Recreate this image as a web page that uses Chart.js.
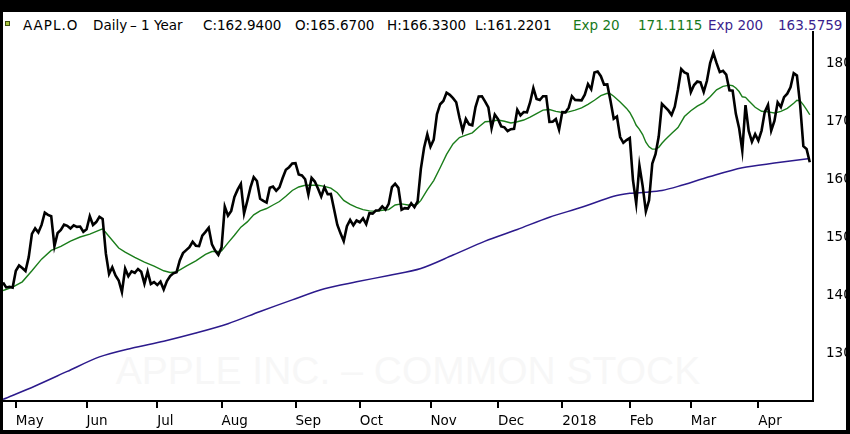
<!DOCTYPE html>
<html>
<head>
<meta charset="utf-8">
<script src="https://cdn.jsdelivr.net/npm/chart.js@4.4.1/dist/chart.umd.min.js"></script>
<style>
html,body{margin:0;padding:0;background:#000;width:850px;height:434px;overflow:hidden;}
#panel{position:absolute;left:3px;top:12px;width:843px;height:418px;background:#fff;overflow:hidden;}
.h{position:absolute;top:5px;font-family:"DejaVu Sans";font-size:13.5px;line-height:16px;white-space:pre;color:#000;}
.g{color:#17791a;}
.p{color:#3b1f8e;}
#icon{position:absolute;left:2px;top:9px;width:3px;height:3px;background:#a9c43c;border:1px solid #3f5210;}
#wm{position:absolute;left:0;width:810px;top:336px;text-align:center;font-family:"Liberation Sans";font-size:39px;line-height:45px;color:#f7f7f7;white-space:pre;}
#c{position:absolute;left:0;top:0;}
</style>
</head>
<body>
<div id="panel">
  <div id="icon"></div>
  <span class="h" style="left:20px;letter-spacing:1px">AAPL.O</span>
  <span class="h" style="left:90px">Daily</span>
  <span class="h" style="left:127px">–</span>
  <span class="h" style="left:138px">1</span>
  <span class="h" style="left:151px">Year</span>
  <span class="h" style="left:200px">C:162.9400</span>
  <span class="h" style="left:292px">O:165.6700</span>
  <span class="h" style="left:384px">H:166.3300</span>
  <span class="h" style="left:472px">L:161.2201</span>
  <span class="h g" style="left:570px">Exp 20</span>
  <span class="h g" style="left:635px">171.1115</span>
  <span class="h p" style="left:705px">Exp 200</span>
  <span class="h p" style="left:775px">163.5759</span>
  <div id="wm">APPLE INC. – COMMON STOCK</div>
  <canvas id="c" width="843" height="418"></canvas>
</div>
<script>
// ---- data ----
const monthLabels = ['May','Jun','Jul','Aug','Sep','Oct','Nov','Dec','2018','Feb','Mar','Apr'];
const monthStartDay = [4,26,48,68,91,111,133,154,174,195,214,235];
const yTickValues = [130,140,150,160,170,180];

// daily closes, 25 Apr 2017 .. 24 Apr 2018 (trading days)
const closes = [
142.28,141.44,141.55,141.41,144.30,145.21,144.77,144.25,146.64,150.63,
151.59,150.87,152.18,154.30,153.91,153.68,148.52,150.78,151.30,152.22,
152.03,151.57,152.10,151.84,151.90,151.00,151.42,153.66,152.16,152.67,
153.58,153.21,147.27,143.75,144.90,143.49,142.63,140.63,144.66,143.34,
144.19,143.95,144.60,144.14,142.08,144.15,142.03,142.36,141.85,142.43,
141.09,142.52,143.39,143.86,144.06,146.07,147.33,147.84,148.35,149.28,
148.61,148.54,150.34,150.98,151.69,148.83,147.78,147.02,148.32,155.33,
153.78,154.59,156.98,158.24,159.21,154.13,156.28,158.63,160.37,159.72,
156.66,156.30,156.01,158.56,158.76,158.05,158.64,160.24,161.67,162.10,
162.75,162.80,160.84,160.67,160.03,157.42,160.27,159.63,158.43,157.07,
158.66,157.46,157.52,154.88,152.22,150.73,149.40,151.97,153.05,152.11,
152.94,152.64,153.30,152.31,154.20,154.12,154.65,154.71,155.36,154.81,
155.79,158.66,159.25,158.54,154.79,155.06,154.98,155.90,155.22,156.21,
161.81,165.45,167.75,165.62,166.83,171.18,172.92,173.48,174.90,174.54,
173.96,173.26,170.64,168.39,170.41,169.46,169.29,172.44,174.25,174.26,
173.38,172.37,168.79,171.15,170.36,169.11,168.95,168.32,168.63,168.68,
171.97,171.00,171.57,171.52,173.26,175.70,173.83,173.64,174.30,174.30,
169.88,169.91,170.39,168.54,171.56,171.53,172.33,174.29,173.64,173.62,
173.58,174.57,176.37,175.48,178.37,178.53,177.74,176.28,176.32,173.51,
170.42,170.81,167.28,166.29,166.75,167.10,159.85,155.85,162.37,158.89,
154.52,156.41,162.71,164.34,167.37,172.99,172.43,171.85,171.07,172.50,
175.50,178.97,178.39,178.12,175.00,176.21,176.82,176.67,175.03,176.94,
179.98,181.72,179.97,178.44,178.65,178.02,175.30,175.24,171.27,168.85,
164.94,172.77,168.34,166.48,167.78,166.68,168.39,171.61,172.80,168.38,
170.05,173.25,172.44,174.14,174.73,175.82,178.24,177.84,172.80,165.72,
165.24,162.94
];

// Exp 20 (green) read at these trading-day positions
const ema20Day = [0,3,6,9,12,15,18,21,24,27,30,31,33,36,38,41,44,47,50,52,54,57,60,63,65,67,68,70,72,74,76,78,80,82,84,86,88,90,92,94,96,98,100,102,104,106,108,110,112,114,116,118,120,122,124,126,128,129,130,132,134,136,138,140,142,144,146,148,150,152,154,156,158,160,162,164,166,168,170,172,174,176,178,180,182,184,186,188,189,190,192,194,195,196,197,198,199,200,201,202,203,204,205,206,208,210,212,214,216,218,220,222,224,226,227,228,229,230,231,232,234,236,238,240,242,244,246,247,248,249,250,251];
const ema20Value = [140.9,141.5,142.4,144.3,146.3,147.8,148.5,149.4,150.1,150.6,151.3,151.5,150.2,148.2,147.5,146.6,145.8,145.1,144.3,144.0,144.1,145.1,146.0,147.1,147.6,147.6,147.7,149.1,150.4,151.8,152.7,153.9,154.6,155.0,155.6,156.2,157.1,158.1,158.7,159.0,159.0,159.0,158.8,158.5,157.7,156.4,155.7,155.2,154.8,154.6,154.5,154.7,154.8,155.6,155.8,155.6,155.6,155.8,156.4,158.2,159.8,162.0,164.3,166.1,167.2,167.6,168.0,169.0,169.9,170.0,170.2,170.0,169.7,169.9,170.2,170.7,171.3,171.9,172.0,171.7,171.5,171.6,171.9,172.3,172.9,173.6,174.4,174.8,174.7,174.3,173.3,172.2,171.5,170.5,169.3,168.6,167.7,166.4,165.6,165.2,165.2,165.5,166.2,166.8,167.9,168.9,170.8,171.8,172.6,173.2,174.2,175.4,176.0,176.2,176.1,175.7,175.1,174.2,174.1,173.5,172.4,171.7,171.6,171.4,171.7,172.2,173.1,173.6,173.5,172.8,172.0,171.11];

// Exp 200 (purple) read at these trading-day positions
const ema200Day = [0,10,20,30,40,50,60,70,80,90,100,110,120,130,140,150,160,170,180,190,195,200,205,210,220,230,240,251];
const ema200Value = [122.2,124.5,127.0,129.5,131.0,132.2,133.6,135.2,137.3,139.3,141.2,142.4,143.5,144.7,147.0,149.4,151.4,153.5,155.2,157.1,157.6,157.8,158.1,158.8,160.5,162.0,162.8,163.58];

// ---- chart ----
const font = {family:'DejaVu Sans', size:13.5};
new Chart(document.getElementById('c'), {
  type: 'line',
  data: {
    datasets: [
      {label:'AAPL.O', data: closes.map((v,i)=>({x:i,y:v})), borderColor:'#000', borderWidth:2.6, pointRadius:0, tension:0, fill:false},
      {label:'Exp 20', data: ema20Day.map((d,i)=>({x:d,y:ema20Value[i]})), borderColor:'#1a7d1a', borderWidth:1.4, pointRadius:0, tension:0, fill:false},
      {label:'Exp 200', data: ema200Day.map((d,i)=>({x:d,y:ema200Value[i]})), borderColor:'#2c1a8c', borderWidth:1.5, pointRadius:0, tension:0.3, fill:false}
    ]
  },
  options: {
    responsive:false, animation:false,
    layout:{padding:{top:20,left:0,right:0,bottom:0}},
    plugins:{legend:{display:false}, title:{display:false}, tooltip:{enabled:false}},
    scales:{
      x:{type:'linear', min:0, max:252,
        afterBuildTicks:s=>{s.ticks = monthStartDay.map(v=>({value:v}));},
        afterFit:s=>{s.height = 29;},
        grid:{display:true, drawOnChartArea:false, drawTicks:true, tickLength:7, color:'#000', lineWidth:2},
        border:{display:true, color:'#000', width:2},
        ticks:{align:'start', color:'#000', font:font, padding:5, maxRotation:0, autoSkip:false,
          callback:(v,i)=>monthLabels[i]}
      },
      y:{position:'right', min:121.92, max:185.33,
        afterBuildTicks:s=>{s.ticks = yTickValues.map(v=>({value:v}));},
        afterFit:s=>{s.width = 33;},
        grid:{display:false},
        border:{display:true, color:'#000', width:2},
        ticks:{color:'#000', font:font, padding:5, callback:v=>String(v)}
      }
    }
  }
});
</script>
</body>
</html>
